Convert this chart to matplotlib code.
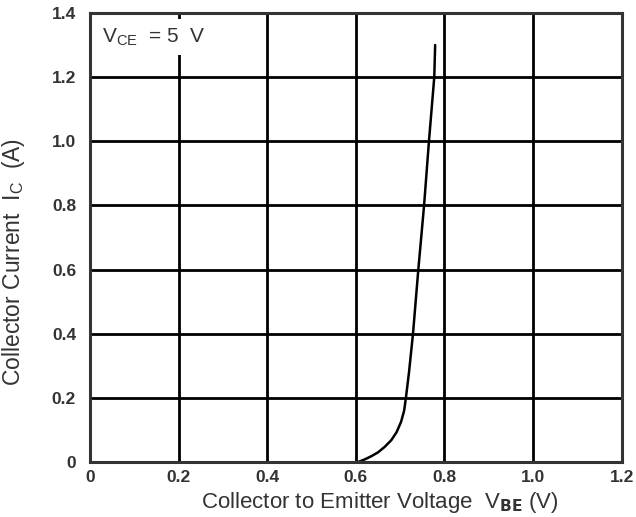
import matplotlib
matplotlib.use("Agg")
import matplotlib.pyplot as plt

# Ic vs Vbe curve
vbe = [0.605, 0.62, 0.635, 0.65, 0.665, 0.68, 0.692, 0.702, 0.709, 0.713,
       0.72, 0.729, 0.741, 0.754, 0.765, 0.777, 0.779]
ic = [0.0, 0.008, 0.018, 0.03, 0.047, 0.068, 0.093, 0.125, 0.16, 0.2,
      0.28, 0.4, 0.6, 0.8, 1.0, 1.2, 1.30]

x_ticks = [0, 0.2, 0.4, 0.6, 0.8, 1.0, 1.2]
x_labels = ["0", "0.2", "0.4", "0.6", "0.8", "1.0", "1.2"]
y_ticks = [0, 0.2, 0.4, 0.6, 0.8, 1.0, 1.2, 1.4]
y_labels = ["0", "0.2", "0.4", "0.6", "0.8", "1.0", "1.2", "1.4"]

plt.rcParams["font.family"] = ["Liberation Sans", "DejaVu Sans"]

fig = plt.figure(figsize=(6.36, 5.17), dpi=100)
ax = fig.add_axes([0.1415, 0.1064, 0.836, 0.8685])

ax.set_xlim(0, 1.2)
ax.set_ylim(0, 1.4)
ax.set_xticks(x_ticks)
ax.set_xticklabels(x_labels)
ax.set_yticks(y_ticks)
ax.set_yticklabels(y_labels)
ax.tick_params(length=0, labelsize=12.5)
ax.tick_params(axis="x", pad=6)
ax.tick_params(axis="y", pad=10)
for lab in ax.get_xticklabels() + ax.get_yticklabels():
    lab.set_fontweight("bold")
    lab.set_color("#333333")

ax.grid(True, color="black", lw=2)
ax.set_axisbelow(True)
for s in ax.spines.values():
    s.set_linewidth(2.2)
    s.set_color("#333333")

ax.plot(vbe, ic, color="black", lw=1.8, solid_capstyle="round")

ax.text(0.028, 1.325, r"V$_{\mathregular{CE}}$  = 5  V", fontsize=15,
        color="#333333", va="center", ha="left",
        bbox=dict(facecolor="white", edgecolor="none", pad=5))

ax.set_xlabel(r"Collector to Emitter Voltage  V$_{\mathbf{BE}}$ (V)",
              fontsize=16, color="#333333")
ax.xaxis.set_label_coords(0.545, -0.062)
ax.set_ylabel(r"Collector Current  I$_{\mathregular{C}}$  (A)",
              fontsize=16.5, color="#333333")
ax.yaxis.set_label_coords(-0.118, 0.445)

fig.savefig("out.png", dpi=100)
